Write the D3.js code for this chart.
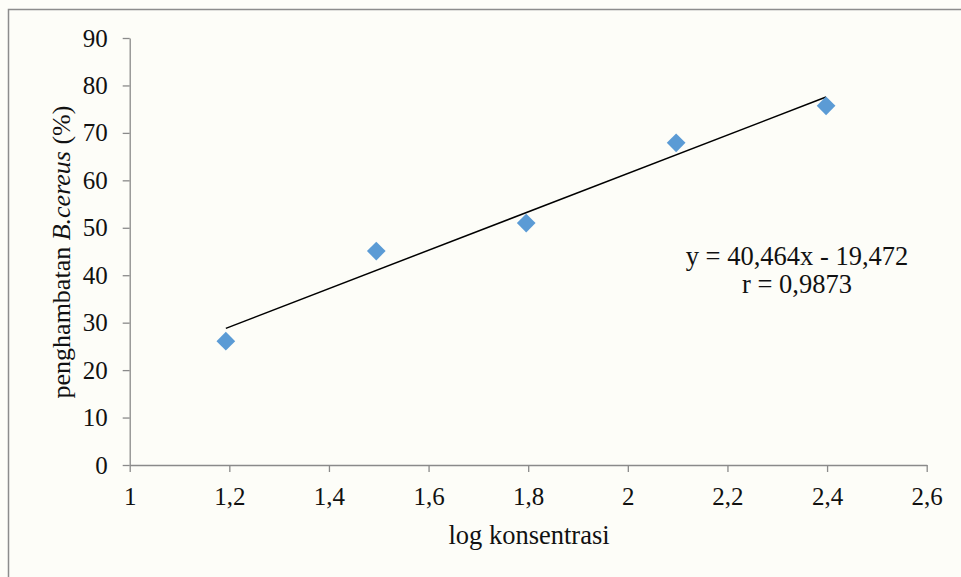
<!DOCTYPE html>
<html>
<head>
<meta charset="utf-8">
<script src="https://d3js.org/d3.v7.min.js"></script>
<style>
  body { margin: 0; background: #fdfdf8; }
  svg { display: block; }
  text { font-family: "Liberation Serif", "Times New Roman", serif; fill: #111; }
</style>
</head>
<body>
<svg id="chart"></svg>
<script>
// data
var logKonsentrasi = [1.193, 1.495, 1.796, 2.097, 2.398];
var penghambatan = [26.1, 45.1, 51.0, 67.9, 75.7];
var xTicks = [1, 1.2, 1.4, 1.6, 1.8, 2, 2.2, 2.4, 2.6];
var yTicks = [0, 10, 20, 30, 40, 50, 60, 70, 80, 90];
var slope = 40.464, intercept = -19.472;
var eqnLines = ["y = 40,464x - 19,472", "r = 0,9873"];

var width = 961, height = 577;

var svg = d3.select("#chart")
    .attr("width", width)
    .attr("height", height);

// outer chart border
svg.append("rect")
    .attr("x", 8.5).attr("y", 9.5)
    .attr("width", width).attr("height", height)
    .attr("fill", "#fdfdf8")
    .attr("stroke", "#8c8c8c")
    .attr("stroke-width", 1.5);

var x = d3.scaleLinear().domain([1, 2.6]).range([129.7, 926.7]);
var y = d3.scaleLinear().domain([0, 90]).range([465, 38]);

var fmt = function (d) { return String(d).replace(".", ","); };

// y axis
var gy = svg.append("g")
    .attr("transform", "translate(" + x(1) + ",0)")
    .call(d3.axisLeft(y).tickValues(yTicks).tickSize(7).tickSizeOuter(0).tickPadding(15).tickFormat(fmt));

// x axis
var gx = svg.append("g")
    .attr("transform", "translate(0," + y(0) + ")")
    .call(d3.axisBottom(x).tickValues(xTicks).tickSize(7).tickSizeOuter(0).tickPadding(15).tickFormat(fmt));

[gx, gy].forEach(function (g) {
    g.select(".domain").attr("stroke", "#8a8a8a").attr("stroke-width", 1.3);
    g.selectAll(".tick line").attr("stroke", "#8a8a8a").attr("stroke-width", 1.3);
    g.selectAll(".tick text")
        .style("font-family", "'Liberation Serif', 'Times New Roman', serif")
        .style("font-size", "25px")
        .attr("fill", "#111");
});

// trendline over the data range
var xMin = d3.min(logKonsentrasi), xMax = d3.max(logKonsentrasi);
svg.append("line")
    .attr("x1", x(xMin)).attr("y1", y(slope * xMin + intercept))
    .attr("x2", x(xMax)).attr("y2", y(slope * xMax + intercept))
    .attr("stroke", "#000")
    .attr("stroke-width", 1.5);

// diamond markers
var diamond = d3.symbol().type(d3.symbolSquare).size(175);
svg.append("g")
    .selectAll("path")
    .data(logKonsentrasi)
    .join("path")
    .attr("d", diamond)
    .attr("transform", function (d, i) {
        return "translate(" + x(d) + "," + y(penghambatan[i]) + ") rotate(45)";
    })
    .attr("fill", "#5b9bd5");

// equation label
svg.append("g")
    .selectAll("text")
    .data(eqnLines)
    .join("text")
    .attr("x", 797)
    .attr("y", function (d, i) { return 265 + i * 28; })
    .attr("text-anchor", "middle")
    .style("font-size", "26.5px")
    .text(function (d) { return d; });

// axis titles
svg.append("text")
    .attr("x", 529)
    .attr("y", 544)
    .attr("text-anchor", "middle")
    .style("font-size", "26.5px")
    .text("log konsentrasi");

var yt = svg.append("text")
    .attr("transform", "translate(70,252) rotate(-90)")
    .attr("text-anchor", "middle")
    .style("font-size", "26px");
yt.append("tspan").text("penghambatan ");
yt.append("tspan").style("font-style", "italic").text("B.cereus");
yt.append("tspan").text(" (%)");
</script>
</body>
</html>
